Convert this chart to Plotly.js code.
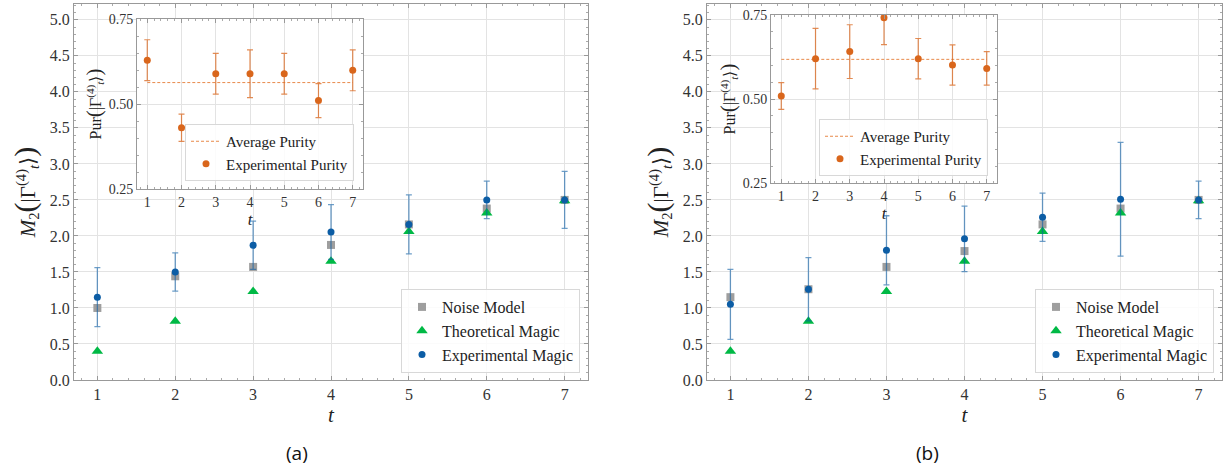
<!DOCTYPE html>
<html>
<head>
<meta charset="utf-8">
<script src="https://cdn.plot.ly/plotly-3.0.1.min.js"></script>
<style>html,body{margin:0;padding:0;background:#fff;}#chart{width:1226px;height:470px;}</style>
</head>
<body>
<div id="chart"></div>
<script>
// ---------- data ----------
var tValues = [1, 2, 3, 4, 5, 6, 7];

// panel (a)
var noiseA = [1.00, 1.44, 1.57, 1.875, 2.16, 2.38, 2.50];
var theoA  = [0.40, 0.815, 1.23, 1.65, 2.06, 2.32, 2.49];
var expA   = [1.15, 1.50, 1.87, 2.056, 2.16, 2.50, 2.50];
var expErrA = [0.41, 0.265, 0.335, 0.38, 0.41, 0.26, 0.395];
var purA    = [0.629, 0.430, 0.589, 0.589, 0.589, 0.510, 0.599];
var purErrA = [0.06, 0.04, 0.06, 0.07, 0.06, 0.05, 0.06];
var avgPurA = [0.563, 0.563, 0.563, 0.563, 0.563, 0.563, 0.563];

// panel (b)
var noiseB = [1.15, 1.26, 1.57, 1.79, 2.16, 2.38, 2.50];
var theoB  = [0.40, 0.815, 1.23, 1.65, 2.06, 2.32, 2.49];
var expB   = [1.05, 1.26, 1.80, 1.96, 2.26, 2.51, 2.50];
var expErrB = [0.485, 0.44, 0.48, 0.455, 0.335, 0.79, 0.26];
var purB    = [0.509, 0.620, 0.641, 0.742, 0.620, 0.601, 0.591];
var purErrB = [0.04, 0.09, 0.08, 0.08, 0.06, 0.06, 0.05];
var avgPurB = [0.618, 0.618, 0.618, 0.618, 0.618, 0.618, 0.618];

var mainTickVals = [0, 0.5, 1, 1.5, 2, 2.5, 3, 3.5, 4, 4.5, 5];
var mainTickText = ['0.0','0.5','1.0','1.5','2.0','2.5','3.0','3.5','4.0','4.5','5.0'];
var insetTickVals = [0.25, 0.5, 0.75];
var insetTickText = ['0.25','0.50','0.75'];

// ---------- style ----------
var SERIF = 'Liberation Serif';
var BLUE = '#0C5DA5', GREEN = '#00B945', GRAY = '#9e9e9e', ORANGE = '#d9661c';
var TXT = '#333333';
var W = 1226, H = 470;
function px(x){ return x / W; }
function py(y){ return 1 - y / H; }

function traceSet(xa, ya, noise, theo, exp, err, leg) {
  return [
    {x: tValues, y: noise, type: 'scatter', mode: 'markers', name: 'Noise Model',
     xaxis: xa, yaxis: ya, legend: leg,
     marker: {symbol: 'square', size: 8, color: GRAY}},
    {x: tValues, y: theo, type: 'scatter', mode: 'markers', name: 'Theoretical Magic',
     xaxis: xa, yaxis: ya, legend: leg,
     marker: {symbol: 'triangle-up', size: 10, color: GREEN}},
    {x: tValues, y: exp, type: 'scatter', mode: 'markers', name: 'Experimental Magic',
     xaxis: xa, yaxis: ya, legend: leg,
     marker: {symbol: 'circle', size: 7, color: BLUE},
     error_y: {type: 'data', array: err, visible: true, color: 'rgba(12,93,165,0.6)', thickness: 1.3, width: 3}}
  ];
}
function insetSet(xa, ya, pur, perr, avg, leg) {
  return [
    {x: tValues, y: avg, type: 'scatter', mode: 'lines', name: 'Average Purity',
     xaxis: xa, yaxis: ya, legend: leg,
     line: {color: '#e8894a', width: 1, dash: '3px,2px'}},
    {x: tValues, y: pur, type: 'scatter', mode: 'markers', name: 'Experimental Purity',
     xaxis: xa, yaxis: ya, legend: leg,
     marker: {symbol: 'circle', size: 7, color: ORANGE},
     error_y: {type: 'data', array: perr, visible: true, color: 'rgba(217,102,28,0.75)', thickness: 1.2, width: 3}}
  ];
}

var data = [].concat(
  traceSet('x', 'y', noiseA, theoA, expA, expErrA, 'legend'),
  traceSet('x2', 'y2', noiseB, theoB, expB, expErrB, 'legend2'),
  insetSet('x3', 'y3', purA, purErrA, avgPurA, 'legend3'),
  insetSet('x4', 'y4', purB, purErrB, avgPurB, 'legend4')
);

function xAxis(dom, anchor, fs, tfs, title, standoff) {
  return {
    domain: dom, anchor: anchor, range: [0.7, 7.3],
    tickvals: tValues, ticktext: tValues.map(String),
    showline: true, linecolor: '#999', linewidth: 1, mirror: 'allticks',
    ticks: 'inside', ticklen: 4, tickcolor: '#999',
    showgrid: true, gridcolor: '#e3e3e3', zeroline: false,
    minor: {dtick: 0.2, ticks: 'inside', ticklen: 2, tickcolor: '#aaa', showgrid: false},
    tickfont: {family: SERIF, size: fs, color: TXT},
    title: {text: title, font: {family: SERIF, size: tfs, color: '#222'}, standoff: standoff},
    automargin: false, fixedrange: true
  };
}
function yAxis(dom, anchor, range, tv, tt, fs, tfs, title, standoff, minorDt) {
  return {
    domain: dom, anchor: anchor, range: range,
    tickvals: tv, ticktext: tt,
    showline: true, linecolor: '#999', linewidth: 1, mirror: 'allticks',
    ticks: 'inside', ticklen: 4, tickcolor: '#999',
    showgrid: true, gridcolor: '#e3e3e3', zeroline: false,
    minor: {dtick: minorDt, ticks: 'inside', ticklen: 2, tickcolor: '#aaa', showgrid: false},
    tickfont: {family: SERIF, size: fs, color: TXT},
    title: {text: title, font: {family: SERIF, size: tfs, color: '#222'}, standoff: standoff},
    automargin: false, fixedrange: true
  };
}

var mainYTitle = '<i>M</i><sub>2</sub><span style="font-size:30px">(</span>|Γ<sup>(4)</sup><sub><i>t</i></sub>⟩<span style="font-size:30px">)</span>';
var insetYTitle = 'Pur<span style="font-size:21px">(</span>|Γ<sup>(4)</sup><sub><i>t</i></sub>⟩<span style="font-size:21px">)</span>';

function legendBox(xr, yb, fs) {
  return {
    x: xr, y: yb, xanchor: 'right', yanchor: 'bottom',
    bgcolor: 'rgba(255,255,255,0.85)', bordercolor: '#d8d8d8', borderwidth: 1,
    font: {family: SERIF, size: fs, color: '#222', style: 'normal', weight: 'normal'},
    tracegroupgap: 0, itemwidth: 30
  };
}

var layout = {
  width: W, height: H,
  margin: {l: 0, r: 0, t: 0, b: 0},
  font: {family: SERIF, size: 15, color: TXT},
  paper_bgcolor: '#fff', plot_bgcolor: '#fff',
  showlegend: true,
  xaxis:  xAxis([px(74), px(588)], 'y', 16, 21, '<i>t</i>', 4),
  yaxis:  yAxis([py(380), py(4)], 'x', [0, 5.22], mainTickVals, mainTickText, 16, 21, mainYTitle, 8, 0.1),
  xaxis2: xAxis([px(707), px(1222)], 'y2', 16, 21, '<i>t</i>', 4),
  yaxis2: yAxis([py(380), py(4)], 'x2', [0, 5.22], mainTickVals, mainTickText, 16, 21, mainYTitle, 8, 0.1),
  xaxis3: xAxis([px(137), px(363)], 'y3', 14, 17, '<i>t</i>', 1),
  yaxis3: yAxis([py(189), py(19)], 'x3', [0.25, 0.75], insetTickVals, insetTickText, 14, 16, insetYTitle, 3, 0.05),
  xaxis4: xAxis([px(771), px(997)], 'y4', 14, 17, '<i>t</i>', 1),
  yaxis4: yAxis([py(183), py(15)], 'x4', [0.25, 0.75], insetTickVals, insetTickText, 14, 16, insetYTitle, 3, 0.05),
  legend:  legendBox(px(580), py(373), 16),
  legend2: legendBox(px(1214), py(373), 16),
  legend3: legendBox(px(354), py(181), 15),
  legend4: legendBox(px(988), py(176), 15),
  annotations: [
    {text: '(a)', x: px(297), y: py(453), xref: 'paper', yref: 'paper', showarrow: false,
     xanchor: 'center', yanchor: 'middle', font: {family: 'Open Sans', size: 19, color: '#111'}},
    {text: '(b)', x: px(927), y: py(453), xref: 'paper', yref: 'paper', showarrow: false,
     xanchor: 'center', yanchor: 'middle', font: {family: 'Open Sans', size: 19, color: '#111'}}
  ]
};

Plotly.newPlot('chart', data, layout, {displayModeBar: false, staticPlot: true});
</script>
</body>
</html>
